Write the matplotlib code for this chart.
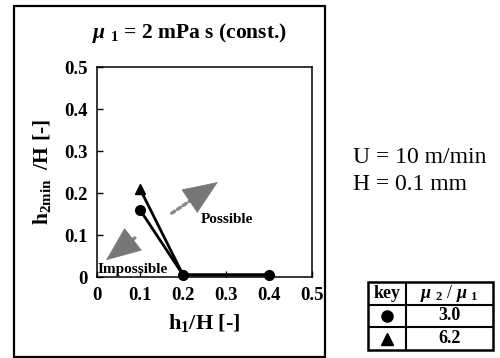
import matplotlib
matplotlib.use("Agg")
import matplotlib.pyplot as plt
from matplotlib.patches import Rectangle
from matplotlib.lines import Line2D

plt.rcParams['font.family'] = ['Liberation Serif', 'DejaVu Serif']
plt.rcParams['mathtext.fontset'] = 'custom'
plt.rcParams['mathtext.rm'] = 'Liberation Serif:bold'
plt.rcParams['mathtext.it'] = 'Liberation Serif:bold:italic'
plt.rcParams['mathtext.bf'] = 'Liberation Serif:bold'

# data
h1 = [0.1, 0.2, 0.4]
h2_circle = [0.16, 0.005, 0.005]   # mu2/mu1 = 3.0
h2_tri = [0.21, 0.005, 0.005]      # mu2/mu1 = 6.2
ticks = [0, 0.1, 0.2, 0.3, 0.4, 0.5]
tick_labels = ['0', '0.1', '0.2', '0.3', '0.4', '0.5']
key_ratios = ['3.0', '6.2']
key_markers = ['o', '^']

W, H = 500, 358
fig = plt.figure(figsize=(W / 100, H / 100), dpi=100)

def fx(px):
    return px / W

def fy(py):
    return 1 - py / H

# outer box
fig.add_artist(Rectangle((fx(14), fy(357)), fx(325) - fx(14), fy(6) - fy(357),
                         transform=fig.transFigure, fill=False, lw=1.6, ec='black'))

ax = fig.add_axes([fx(97), fy(277), fx(312) - fx(97), fy(67) - fy(277)])
ax.plot(h1, h2_tri, color='black', lw=2, marker='^', ms=7, markevery=[0], clip_on=False, zorder=3)
ax.plot(h1, h2_circle, color='black', lw=2, marker='o', ms=7, clip_on=False, zorder=4)
ax.set_xlim(0, 0.5)
ax.set_ylim(0, 0.5)
ax.set_xticks(ticks)
ax.set_xticklabels(tick_labels, fontsize=13.5, fontweight='bold')
ax.set_yticks(ticks)
ax.set_yticklabels(tick_labels, fontsize=13.5, fontweight='bold')
ax.tick_params(direction='in', length=4, width=1, pad=7)
for s in ax.spines.values():
    s.set_linewidth(1.1)

ax.set_xlabel(r'h$_1$/H [-]', fontsize=16, fontweight='bold', labelpad=6)
ax.set_ylabel(r'h$_{\mathrm{2min}}$  /H [-]', fontsize=15.5, fontweight='bold', labelpad=8)

# arrows
def grey_arrow(tail, tip):
    ax.annotate('', xy=tip, xytext=tail,
                arrowprops=dict(arrowstyle='-', color='#8a8a8a', lw=2.5, linestyle=(0, (1, 1)),
                                shrinkA=0, shrinkB=14))
    dx = tip[0] - tail[0]
    dy = tip[1] - tail[1]
    base = (tip[0] - 0.4 * dx, tip[1] - 0.4 * dy)
    ax.annotate('', xy=tip, xytext=base,
                arrowprops=dict(arrowstyle='-|>,head_length=1.7,head_width=0.7', color='#777777',
                                lw=0.5, shrinkA=0, shrinkB=0, mutation_scale=14))

grey_arrow((0.174, 0.152), (0.281, 0.226))
grey_arrow((0.088, 0.093), (0.021, 0.040))

ax.text(0.302, 0.138, 'Possible', fontsize=11, fontweight='bold', ha='center', va='center')
ax.text(0.084, 0.017, 'Impossible', fontsize=11, fontweight='bold', ha='center', va='center')

# title
fig.text(fx(190), fy(33), r'$\mu$ $_1$ = 2 mPa s (const.)', fontsize=15.5, fontweight='bold',
         ha='center', va='center')

# side text
fig.text(fx(353), fy(158), 'U = 10 m/min', fontsize=17, ha='left', va='center')
fig.text(fx(353), fy(185), 'H = 0.1 mm', fontsize=17, ha='left', va='center')

# key table
tax = fig.add_axes([fx(368), fy(350), fx(493) - fx(368), fy(282) - fy(350)])
tax.set_xlim(0, 1)
tax.set_ylim(0, 3)
tax.axis('off')
tax.add_patch(Rectangle((0, 0), 1, 3, fill=False, lw=1.8, ec='black', clip_on=False))
split = (406 - 368) / (493 - 368)
tax.add_line(Line2D([split, split], [0, 3], color='black', lw=1.5))
tax.add_line(Line2D([0, 1], [1, 1], color='black', lw=1.5))
tax.add_line(Line2D([0, 1], [2, 2], color='black', lw=1.5))
tax.text(split / 2, 2.5, 'key', fontsize=13, fontweight='bold', ha='center', va='center')
tax.text((split + 1) / 2, 2.5, r'$\mu$ $_2$ / $\mu$ $_1$', fontsize=13, ha='center', va='center')
for i, (r, m) in enumerate(zip(key_ratios, key_markers)):
    yc = 1.5 - i
    tax.plot([split / 2], [yc], marker=m, color='black', ms=8, ls='none')
    tax.text((split + 1) / 2, yc, r, fontsize=13, fontweight='bold', ha='center', va='center')

fig.savefig('out.png', dpi=100)
